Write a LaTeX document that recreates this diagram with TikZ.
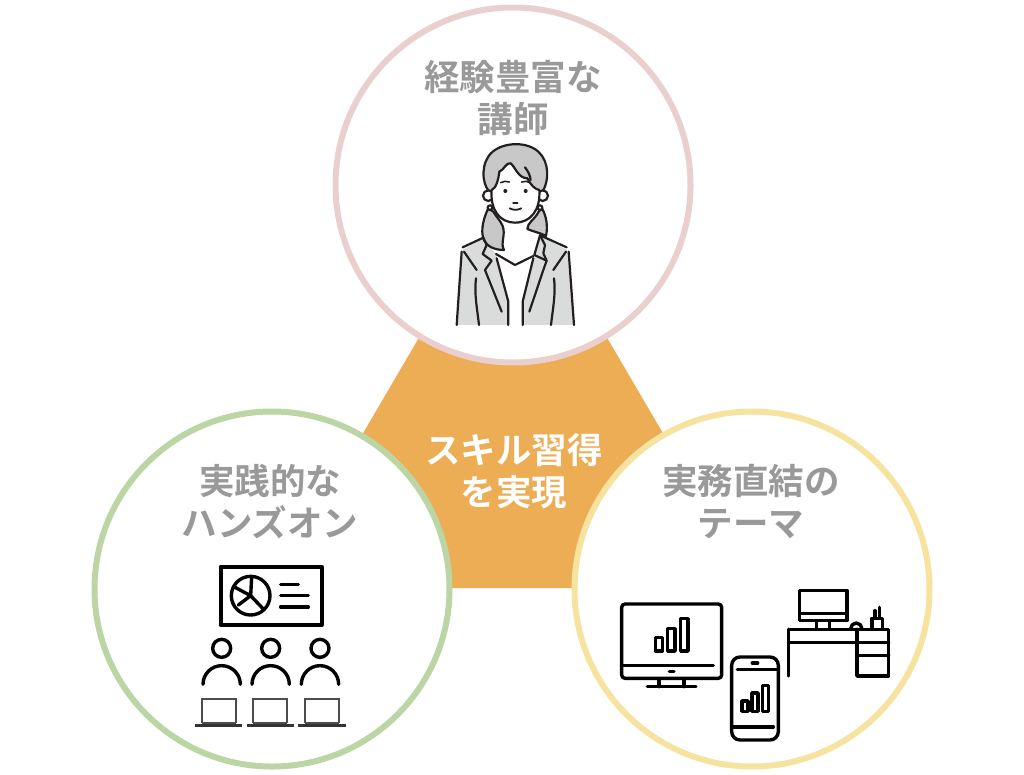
\documentclass[tikz,border=0pt]{standalone}
\usepackage{fontspec}
\setmainfont{Noto Sans CJK JP}[BoldFont={* Bold}]
\usepackage{xcolor}
\definecolor{ring_pink}{HTML}{E9CFCE}
\definecolor{ring_green}{HTML}{BCD5A5}
\definecolor{ring_yellow}{HTML}{F6E3A0}
\definecolor{hub_orange}{HTML}{EDAD55}
\definecolor{label_gray}{HTML}{999999}
\definecolor{hair_gray}{HTML}{C8C8C8}
\definecolor{suit_gray}{HTML}{DADBDB}
\definecolor{ink}{HTML}{231F20}
\tikzset{
    ringnode/.style = {circle, fill=white, line width=6pt, minimum size=355pt, inner sep=0pt},
    textnode/.style = {align=center, inner sep=0pt, text centered, font=\bfseries\fontsize{35.5}{42}\selectfont},
    labelnode/.style = {textnode, text=label_gray},
    hubnode/.style = {textnode, text=white},
    iconline/.style = {draw=black, line width=3.4pt, line cap=round, line join=round},
    thinline/.style = {draw=ink, line width=2.2pt, line cap=round, line join=round},
    laptopline/.style = {draw=black!70, line width=1.7pt}
}
\begin{document}
\begin{tikzpicture}[x=1pt,y=-1pt]
    \useasboundingbox (0,0) rectangle (1024,774);
    \fill[hub_orange] (441,300) -- (585,300) -- (681,464) -- (640,588) -- (400,588) -- (345,464) -- cycle;
    \node [ringnode, draw=ring_pink] (top_ring) at (513,185) {};
    \node [ringnode, draw=ring_green] (left_ring) at (272,589) {};
    \node [ringnode, draw=ring_yellow] (right_ring) at (752,589) {};
    \node [labelnode] (top_label) at (513,98) {経験豊富な\\講師};
    \node [labelnode] (left_label) at (270,502) {実践的な\\ハンズオン};
    \node [labelnode] (right_label) at (751,502) {実務直結の\\テーマ};
    \node [hubnode] (hub_label) at (514,471) {スキル習得\\を実現};
    % teacher
    \begin{scope}[shift={(440,130)},x=0.3333pt,y=-0.3333pt]
        \fill[suit_gray] (68,360) -- (130,325) -- (170,375) -- (205,515) -- (205,585) -- (50,585) -- cycle;
        \fill[suit_gray] (382,360) -- (300,318) -- (280,378) -- (248,515) -- (248,585) -- (402,585) -- cycle;
        \fill[white] (170,375) -- (225,405) -- (280,378) -- (248,515) -- (248,585) -- (205,585) -- (205,515) -- cycle;
        \filldraw[thinline, fill=hair_gray] (148,185) .. controls (124,160) and (122,95) .. (158,65) .. controls (195,35) and (262,35) .. (295,65) .. controls (328,95) and (328,150) .. (308,185) -- cycle;
        \filldraw[thinline, fill=hair_gray] (145,235) .. controls (130,265) and (122,300) .. (130,325) .. controls (138,350) and (165,360) .. (192,360) .. controls (180,340) and (198,315) .. (188,288) .. controls (180,270) and (170,262) .. (160,245) -- cycle;
        \filldraw[thinline, fill=hair_gray] (296,245) .. controls (285,268) and (262,278) .. (262,297) .. controls (280,305) and (300,308) .. (318,318) .. controls (324,290) and (320,260) .. (306,235) -- cycle;
        \filldraw[thinline, fill=white] (145,197) circle (16);
        \filldraw[thinline, fill=white] (308,197) circle (16);
        \filldraw[thinline, fill=white] (150,233) circle (7);
        \filldraw[thinline, fill=white] (300,233) circle (7);
        \filldraw[thinline, fill=white] (155,180) .. controls (168,175) and (175,150) .. (178,125) .. controls (190,122) and (200,95) .. (212,100) .. controls (225,110) and (235,145) .. (262,145) .. controls (272,165) and (285,178) .. (298,180) .. controls (302,240) and (272,278) .. (225,278) .. controls (180,278) and (150,240) .. (155,180) -- cycle;
        \draw[thinline] (255,112) .. controls (265,125) and (270,135) .. (272,150);
        \draw[thinline, line width=1.6pt] (182,158) .. controls (190,153) and (200,153) .. (208,156);
        \draw[thinline, line width=1.6pt] (245,156) .. controls (253,153) and (263,153) .. (271,158);
        \fill[ink] (196,183) circle (6);
        \fill[ink] (257,183) circle (6);
        \draw[thinline, line width=1.4pt] (219,219) -- (233,219);
        \draw[thinline, line width=1.8pt] (209,235) .. controls (220,241) and (232,241) .. (244,235);
        \draw[thinline] (68,352) -- (130,323) -- (140,345) -- (128,372) -- (155,392) -- (135,420) -- (185,545);
        \draw[thinline] (380,352) -- (300,316) -- (283,375) -- (320,392) -- (310,420) -- (268,545);
        \draw[thinline] (300,316) -- (315,345) -- (310,370) -- (320,392);
        \draw[thinline] (168,372) -- (225,405) -- (280,378);
        \draw[thinline] (170,385) -- (205,515) -- (205,585);
        \draw[thinline] (280,385) -- (248,515) -- (248,585);
        \draw[thinline] (65,365) -- (50,585);
        \draw[thinline] (386,365) -- (402,585);
        \draw[thinline] (72,365) -- (110,420);
        \draw[thinline] (378,365) -- (340,420);
        \draw[thinline] (108,445) .. controls (102,490) and (112,540) .. (117,585);
        \draw[thinline] (342,445) .. controls (348,490) and (338,540) .. (333,585);
    \end{scope}
    % hands-on class
    \begin{scope}[shift={(180,555)},x=0.3333pt,y=-0.3333pt]
        \draw[iconline, line width=4pt] (122,35) rectangle (425,210);
        \draw[iconline] (212,122) circle (58);
        \draw[iconline] (215,66) -- (212,122) -- (165,97);
        \draw[iconline] (175,150) -- (212,122) -- (248,160);
        \draw[iconline] (302,88) -- (355,88);
        \draw[iconline] (302,122) -- (385,122);
        \draw[iconline] (302,156) -- (385,156);
        \foreach \i in {125,272,420} {
            \draw[iconline] (\i,280) circle (27);
            \draw[iconline] (\i-56,388) arc[start angle=180, end angle=360, radius=56];
        }
        \foreach \i in {116,271,426} {
            \draw[laptopline] (\i-51,505) -- (\i-51,433) -- (\i+51,433) -- (\i+51,505);
            \draw[laptopline, draw=black!80, line width=2.4pt] (\i-71,511) -- (\i+71,511);
            \draw[laptopline] (\i-51,504) -- (\i+51,504);
        }
    \end{scope}
    % monitor, phone and desk
    \begin{scope}[shift={(610,580)},x=0.3333pt,y=-0.3333pt]
        \draw[iconline] (45,72) -- (325,72) to[out=0,in=90] (335,82) -- (335,285) to[out=-90,in=0] (325,295) -- (45,295) to[out=180,in=-90] (35,285) -- (35,82) to[out=90,in=180] cycle;
        \draw[iconline] (38,257) -- (310,257);
        \draw[iconline] (178,274) -- (192,274);
        \draw[iconline] (147,297) -- (147,320);
        \draw[iconline] (222,297) -- (222,320);
        \draw[iconline] (112,320) -- (258,320);
        \draw[iconline] (136,172) rectangle (158,213);
        \draw[iconline] (173,146) rectangle (195,213);
        \draw[iconline] (212,116) rectangle (234,213);
        \draw[iconline] (390,231) -- (480,231) to[out=0,in=90] (505,256) -- (505,455) to[out=-90,in=0] (480,480) -- (390,480) to[out=180,in=-90] (365,455) -- (365,256) to[out=90,in=180] cycle;
        \draw[iconline] (382,268) -- (500,268);
        \draw[iconline] (427,249) -- (443,249);
        \draw[iconline] (370,441) -- (490,441);
        \draw[iconline] (396,363) rectangle (414,394);
        \draw[iconline] (426,339) rectangle (444,394);
        \draw[iconline] (458,316) rectangle (476,394);
        \draw[iconline] (568,31) rectangle (711,122);
        \draw[iconline] (570,100) -- (708,100);
        \draw[iconline] (620,124) -- (620,148);
        \draw[iconline] (658,124) -- (658,148);
        \draw[iconline] (536,148) -- (836,148) -- (836,288) -- (741,288) -- (741,148);
        \draw[iconline] (536,148) -- (536,288);
        \draw[iconline] (536,187) -- (836,187);
        \draw[iconline] (741,226) -- (836,226);
        \draw[iconline] (722,146) arc[start angle=180, end angle=360, radius=17];
        \draw[iconline] (786,146) -- (786,115) -- (818,115) -- (818,146);
        \draw[iconline] (795,113) -- (795,92);
        \draw[iconline] (808,113) -- (808,82);
    \end{scope}
\end{tikzpicture}
\end{document}
